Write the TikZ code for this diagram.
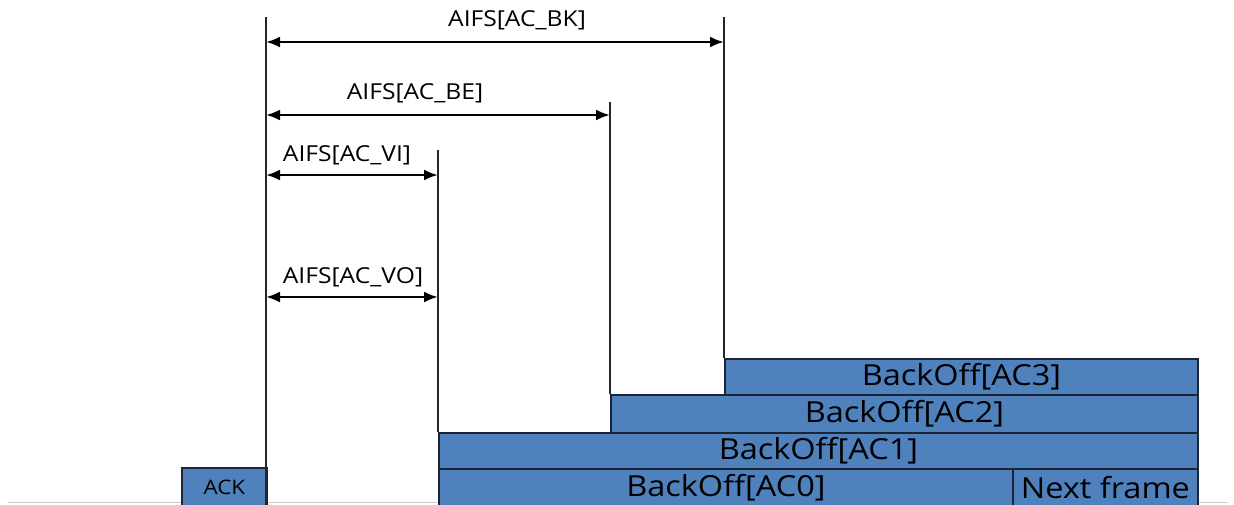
\documentclass[tikz,border=0pt]{standalone}
\usepackage{fontspec}
\setmainfont{Open Sans}[FakeStretch=1.12]
\usetikzlibrary{arrows.meta, positioning}
\definecolor{slotblue}{HTML}{4F81BD}
\definecolor{edgedark}{HTML}{1C2535}

\begin{document}
\begin{tikzpicture}[x=1pt, y=-1pt, >={Latex[length=14pt, width=11pt]},
    slot/.style={draw=edgedark, line width=1.8pt, fill=slotblue, rectangle, anchor=north west, inner sep=0pt, font=\fontsize{29}{30}\selectfont},
    tick/.style={draw=black!85, line width=2.3pt},
    span/.style={<->, line width=2.5pt},
    lbl/.style={font=\fontsize{22}{24}\selectfont, inner sep=0pt}]
      \path [use as bounding box, clip] (0,0) rectangle (1234,504);

      % Medium line
      \draw [black!20, line width=1pt] (8,502) -- (1228,502);

      % Frames and backoff slots
      \node [slot, minimum width=85pt, minimum height=39pt, font=\fontsize{20}{22}\selectfont] (ack) at (181,467) {ACK};
      \node [slot, minimum width=574pt, minimum height=37pt] (ac0) at (438,468) {BackOff[AC0]};
      \node [slot, minimum width=185pt, minimum height=37pt] (next) at (1012,468) {Next frame};
      \node [slot, minimum width=759pt, minimum height=36pt] (ac1) at (438,432) {BackOff[AC1]};
      \node [slot, minimum width=587pt, minimum height=38pt] (ac2) at (610,394) {BackOff[AC2]};
      \node [slot, minimum width=473pt, minimum height=36pt] (ac3) at (724,358) {BackOff[AC3]};

      % Slot boundaries
      \coordinate (v0) at (266,17);
      \coordinate (v1) at (438,150);
      \coordinate (v2) at (610,102);
      \coordinate (v3) at (724,17);
      \draw [tick] (v0) -- (v0 |- ack.south);
      \draw [tick] (v1) -- (ac1.north west);
      \draw [tick] (v2) -- (ac2.north west);
      \draw [tick] (v3) -- (ac3.north west);

      % AIFS spans
      \coordinate (yBK) at (0,42);
      \coordinate (yBE) at (0,115);
      \coordinate (yVI) at (0,175);
      \coordinate (yVO) at (0,297);
      \draw [span] (v0 |- yBK) -- (v3 |- yBK);
      \draw [span] (v0 |- yBE) -- (v2 |- yBE);
      \draw [span] (v0 |- yVI) -- (v1 |- yVI);
      \draw [span] (v0 |- yVO) -- (v1 |- yVO);
      \node [lbl] (aifsBK) at (517,20) {AIFS[AC\_BK]};
      \node [lbl] (aifsBE) at (415,93) {AIFS[AC\_BE]};
      \node [lbl] (aifsVI) at (347,155) {AIFS[AC\_VI]};
      \node [lbl] (aifsVO) at (353,277) {AIFS[AC\_VO]};
    \end{tikzpicture}
\end{document}
